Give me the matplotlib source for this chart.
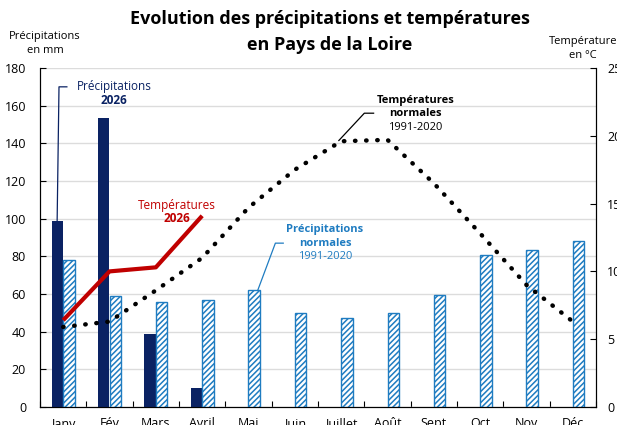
import matplotlib
matplotlib.use("Agg")
import matplotlib.pyplot as plt
import numpy as np

months = ["Janv", "Fév", "Mars", "Avril", "Mai", "Juin", "Juillet", "Août", "Sept", "Oct", "Nov", "Déc"]
precip_2026 = [99, 153.5, 38.5, 10]
precip_normal = [78, 59, 56, 57, 62, 50, 47, 50, 59.5, 80.5, 83.5, 88]
temp_2026 = [6.4, 10.0, 10.3, 14.1]
temp_normal = [5.9, 6.3, 8.6, 11.0, 14.7, 17.5, 19.6, 19.7, 16.5, 12.8, 9.0, 6.3]

NAVY = "#0a2263"
BLUE = "#1f7cc1"
RED = "#c00000"
FONT = ["Open Sans", "DejaVu Sans"]
plt.rcParams["font.family"] = FONT
plt.rcParams["hatch.linewidth"] = 1.1

fig = plt.figure(figsize=(6.17, 4.25), dpi=100)
ax = fig.add_axes([40/617, 18/425, 556/617, 339/425])
ax2 = ax.twinx()

x = np.arange(len(months))
w = 0.25
ax.bar(x[:len(precip_2026)] - w/2, precip_2026, width=w, color=NAVY, zorder=3)
ax.bar(x + w/2, precip_normal, width=w, color="white", edgecolor=BLUE,
       hatch="//////", linewidth=1.0, zorder=3)

ax.set_xlim(-0.5, 11.5)
ax.set_ylim(0, 180)
ax.set_yticks(np.arange(0, 181, 20))
ax.grid(axis="y", color="#dcdcdc", linewidth=1.0, zorder=0)
ax.set_axisbelow(True)
ax.set_xticks(np.arange(-0.5, 11.6, 1.0))
ax.set_xticklabels([])
ax.set_xticks(x, minor=True)
ax.set_xticklabels(months, minor=True, fontsize=9)
ax.tick_params(axis="x", which="minor", length=0, pad=7)
ax.tick_params(axis="x", which="major", direction="in", length=4)
ax.tick_params(axis="y", direction="in", length=4, labelsize=9, pad=10)
for s in ["top"]:
    ax.spines[s].set_visible(False)
    ax2.spines[s].set_visible(False)

ax2.plot(x[:len(temp_2026)], temp_2026, color=RED, linewidth=3, zorder=5,
         solid_capstyle="butt")
ax2.plot(x, temp_normal, color="black", linestyle=(0, (0.1, 2.4)), linewidth=3.2,
         dash_capstyle="round", zorder=5)
ax2.set_ylim(0, 25)
ax2.set_yticks(np.arange(0, 26, 5))
ax2.tick_params(axis="y", direction="in", length=4, labelsize=9, pad=8)

fig.text(0.535, 0.955, "Evolution des précipitations et températures",
         ha="center", va="center", fontsize=13, fontweight="bold")
fig.text(0.535, 0.895, "en Pays de la Loire", ha="center", va="center",
         fontsize=13, fontweight="bold")
fig.text(0.073, 0.898, "Précipitations\nen mm", ha="center", va="center",
         fontsize=8, linespacing=1.4)
fig.text(0.945, 0.885, "Température\nen °C", ha="center", va="center",
         fontsize=8, linespacing=1.4)

# annotations (data coordinates in left axis)
ax.text(1.1, 170, "Précipitations", color=NAVY, ha="center", va="center", fontsize=8.5)
ax.text(1.1, 163, "2026", color=NAVY, ha="center", va="center", fontsize=8.5, fontweight="bold")
ax.plot([0.08, -0.09, -0.13], [170, 170, 99], color=NAVY, linewidth=0.9, zorder=4)

ax.text(2.45, 107, "Températures", color=RED, ha="center", va="center", fontsize=8.5)
ax.text(2.45, 100, "2026", color=RED, ha="center", va="center", fontsize=8.5, fontweight="bold")

ax.text(7.6, 163, "Températures", color="black", ha="center", va="center", fontsize=8, fontweight="bold")
ax.text(7.6, 156, "normales", color="black", ha="center", va="center", fontsize=8, fontweight="bold")
ax.text(7.6, 148.5, "1991-2020", color="black", ha="center", va="center", fontsize=8)
ax.plot([6.7, 6.5, 5.95], [156, 156, 141.5], color="black", linewidth=0.9, zorder=4)

ax.text(5.65, 94, "Précipitations", color=BLUE, ha="center", va="center", fontsize=8, fontweight="bold")
ax.text(5.65, 87, "normales", color=BLUE, ha="center", va="center", fontsize=8, fontweight="bold")
ax.text(5.65, 80, "1991-2020", color=BLUE, ha="center", va="center", fontsize=8)
ax.plot([4.75, 4.58, 4.2], [87, 87, 62], color=BLUE, linewidth=0.9, zorder=4)

fig.savefig("out.png", dpi=100)
